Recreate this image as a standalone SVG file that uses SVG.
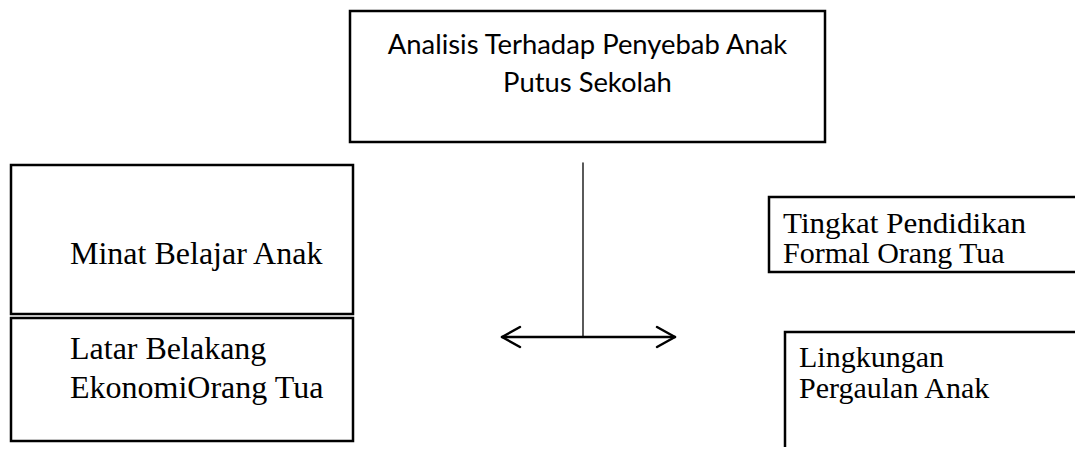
<svg xmlns="http://www.w3.org/2000/svg" width="1075" height="449" viewBox="0 0 1075 449">
<style>
.box{fill:none;stroke:#000;stroke-width:2.5}
.serif{font-family:"Liberation Serif","Times New Roman",serif;font-size:32px;fill:#000}
.serif-r{font-family:"Liberation Serif","Times New Roman",serif;font-size:30px;fill:#000}
.sans{font-family:Lato,"Open Sans",sans-serif;font-size:27.4px;fill:#000}
.conn{stroke:#000;fill:none;stroke-linecap:round;stroke-linejoin:round}
</style>
<rect width="1075" height="449" fill="#fff"/>
<g id="node-top">
<rect class="box" x="350" y="11" width="475" height="131"/>
<text class="sans" x="587.5" y="54" text-anchor="middle">Analisis Terhadap Penyebab Anak</text>
<text class="sans" x="587.5" y="92" text-anchor="middle">Putus Sekolah</text>
</g>
<g id="node-minat">
<rect class="box" x="11" y="165" width="342" height="149"/>
<text class="serif" x="70" y="264">Minat Belajar Anak</text>
</g>
<g id="node-ekonomi">
<rect class="box" x="11" y="318" width="342" height="123"/>
<text class="serif" x="70" y="359">Latar Belakang</text>
<text class="serif" x="70" y="398">EkonomiOrang Tua</text>
</g>
<g id="node-pendidikan">
<path class="box" d="M1076,197 H769 V272 H1076"/>
<text class="serif-r" x="783" y="233" textLength="243" lengthAdjust="spacingAndGlyphs">Tingkat Pendidikan</text>
<text class="serif-r" x="783" y="263">Formal Orang Tua</text>
</g>
<g id="node-lingkungan">
<path class="box" d="M1076,332 H785 V447"/>
<text class="serif-r" x="799" y="367">Lingkungan</text>
<text class="serif-r" x="799" y="398">Pergaulan Anak</text>
</g>
<g id="connectors">
<line class="conn" x1="583" y1="163" x2="583" y2="337" stroke-width="1.3"/>
<line class="conn" x1="502" y1="337" x2="675" y2="337" stroke-width="2.5"/>
<polyline class="conn" points="520,327 502,337 520,347" stroke-width="2.5"/>
<polyline class="conn" points="657,327 675,337 657,347" stroke-width="2.5"/>
</g>
</svg>
